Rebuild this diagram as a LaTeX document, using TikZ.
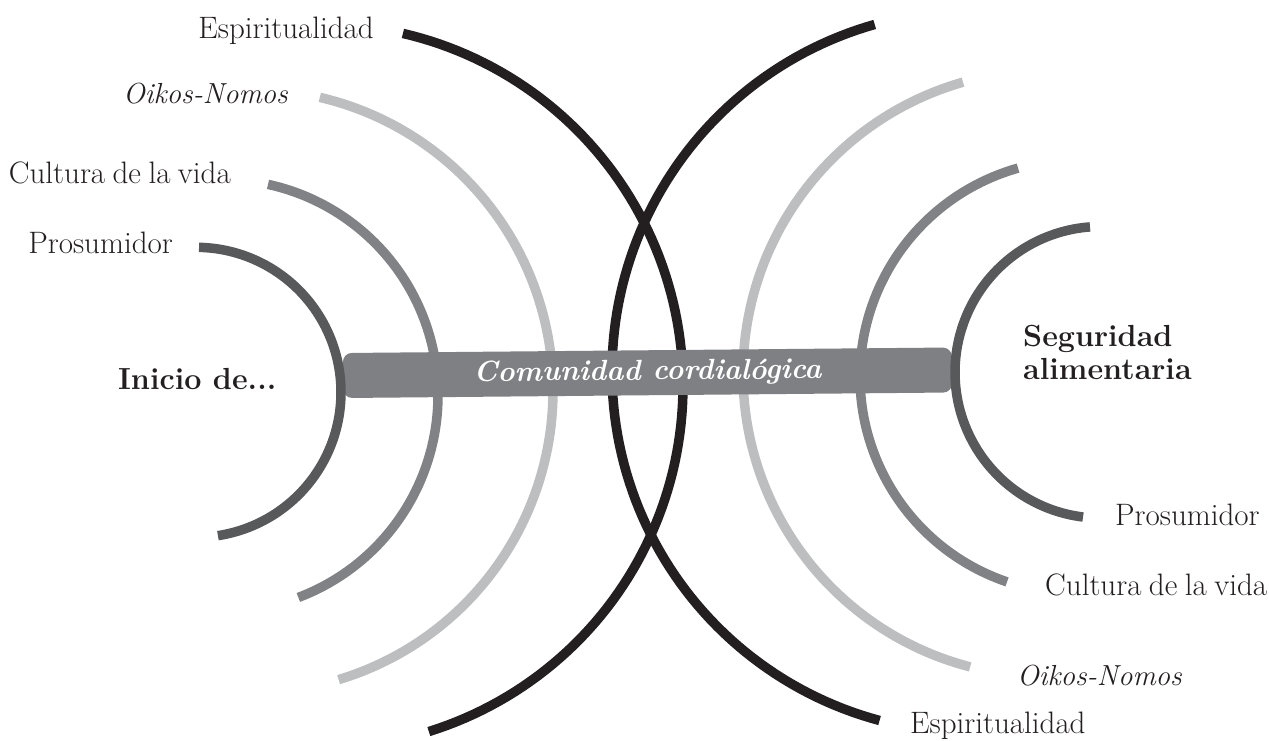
\documentclass[tikz,border=0pt]{standalone}
\usepackage{fontspec}
\definecolor{cblk}{HTML}{231F20}
\definecolor{cpro}{HTML}{58595B}
\definecolor{ccul}{HTML}{808285}
\definecolor{coik}{HTML}{BCBEC0}
\definecolor{cbar}{HTML}{7F8084}
\newcommand\mylblfont{\fontsize{31}{36}\selectfont\spaceskip=0.24em\relax}
\tikzset{
  band/.style={line width=9.5pt, line join=round},
  lbl/.style={font=\mylblfont, text=cblk, inner sep=0pt},
  lblit/.style={lbl, font=\fontsize{29}{34}\selectfont\itshape},
  lblbf/.style={font=\fontsize{30.5}{33}\selectfont\bfseries, text=cblk, inner sep=0pt, align=left},
  barbox/.style={fill=cbar, rounded corners=9pt, minimum width=609pt, minimum height=45pt, inner sep=0pt, text=white, font=\fontsize{29}{33}\selectfont\bfseries\itshape}
}
\begin{document}
\begin{tikzpicture}[x=1pt,y=-1pt]
\useasboundingbox (0,0) rectangle (1269,740);
% black arcs
\draw[band,cblk] plot[domain=-76.92:72.67,samples=100] ({321+362*cos(\x)},{386+362*sin(\x)});
\draw[band,cblk] plot[domain=105:254.2,samples=100] ({973+361*cos(\x)},{371.8+361*sin(\x)});
% oikos arcs
\draw[band,coik] plot[domain=-76.9:73.2,samples=100] ({251.5+301.5*cos(\x)},{391+301.5*sin(\x)});
\draw[band,coik] plot[domain=104.5:254.1,samples=100] ({1046+303*cos(\x)},{373.55+303*sin(\x)});
% cultura arcs
\draw[band,ccul] plot[domain=-77.7:69.3,samples=100] ({222+216*cos(\x)},{395.4+216*sin(\x)});
\draw[band,ccul] plot[domain=108.75:254.3,samples=100] ({1076.7+216.7*cos(\x)},{376.7+216.7*sin(\x)});
% central bar
\node[barbox, rotate=0.52] (bar) at (647.5,372.75) {Comunidad cordialógica};
% prosumidor arcs
\draw[band,cpro] plot[domain=-88.8:81.3,samples=100] ({196+145*cos(\x)},{392.3+145*sin(\x)});
\draw[band,cpro] plot[domain=97:265.75,samples=100] ({1100.8+145.8*cos(\x)},{372.3+145.8*sin(\x)});
% labels
\node[lbl, anchor=base east] (espL) at (374,38) {Espiritualidad};
\node[lblit, anchor=base east] (oikL) at (288,103) {Oikos-Nomos};
\node[lbl, anchor=base east] (culL) at (231,183) {Cultura de la vida};
\node[lbl, anchor=base east] (proL) at (173,253) {Prosumidor};
\node[lblbf, anchor=base west] (inicio) at (118,389) {Inicio de...};
\node[lblbf, anchor=base west] (segur) at (1023,379) {Seguridad\\alimentaria};
\node[lbl, anchor=base west] (proR) at (1115,525) {Prosumidor};
\node[lbl, anchor=base west] (culR) at (1045,595) {Cultura de la vida};
\node[lblit, anchor=base west] (oikR) at (1017,685) {Oikos-Nomos};
\node[lbl, anchor=base west] (espR) at (910,733) {Espiritualidad};
\end{tikzpicture}
\end{document}
